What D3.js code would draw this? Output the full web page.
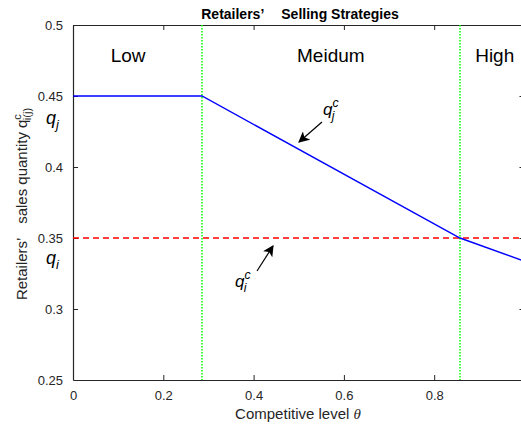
<!DOCTYPE html>
<html>
<head>
<meta charset="utf-8">
<script src="https://cdn.jsdelivr.net/npm/d3@7"></script>
<style>
  body { margin: 0; background: #fff; }
  svg text { font-family: Arial, "Liberation Sans", Helvetica, sans-serif; }
</style>
</head>
<body>
<svg id="chart" width="521" height="428"></svg>
<script>
// Competitive level breakpoints and sales quantities
const theta = [0, 2 / 7, 6 / 7, 1];
const qj = [0.45, 0.45, 0.35, 0.3336];
const qiLevel = [0.35, 0.35];
const qiTheta = [0, 1];
const thresholds = [2 / 7, 6 / 7];
const regions = [
  { name: "Low", at: 0.122 },
  { name: "Meidum", at: 0.571 },
  { name: "High", at: 0.934 }
];
const xTicks = [0, 0.2, 0.4, 0.6, 0.8];
const yTicks = [0.25, 0.3, 0.35, 0.4, 0.45, 0.5];

const svg = d3.select("#chart");
const pLeft = 73, pRight = 524.5, pTop = 25, pBottom = 380;

const x = d3.scaleLinear().domain([0, 1]).range([pLeft, pRight]);
const y = d3.scaleLinear().domain([0.25, 0.5]).range([pBottom, pTop]);

const axisColor = "#262626";

// Box axes with inward ticks
const gB = svg.append("g").attr("transform", `translate(0,${pBottom})`)
  .call(d3.axisBottom(x).tickValues(xTicks).tickSizeInner(-5).tickSizeOuter(0)
    .tickPadding(11).tickFormat(d3.format("")));
const gT = svg.append("g").attr("transform", `translate(0,${pTop})`)
  .call(d3.axisTop(x).tickValues(xTicks).tickSizeInner(-5).tickSizeOuter(0).tickFormat(""));
const gL = svg.append("g").attr("transform", `translate(${pLeft},0)`)
  .call(d3.axisLeft(y).tickValues(yTicks).tickSizeInner(-5).tickSizeOuter(0)
    .tickPadding(10).tickFormat(d3.format("")));
const gR = svg.append("g").attr("transform", `translate(${pRight},0)`)
  .call(d3.axisRight(y).tickValues(yTicks).tickSizeInner(-5).tickSizeOuter(0).tickFormat(""));

[gB, gT, gL, gR].forEach(g => {
  g.select(".domain").attr("stroke", axisColor).attr("stroke-width", 1.2);
  g.selectAll(".tick line").attr("stroke", axisColor);
  g.selectAll(".tick text").attr("fill", axisColor).style("font-size", "13px");
});
gL.selectAll(".tick line").filter(d => d === 0.25 || d === 0.5).remove();
gR.selectAll(".tick line").filter(d => d === 0.25 || d === 0.5).remove();

// Threshold lines between regions
svg.append("g").selectAll("line").data(thresholds).join("line")
  .attr("x1", d => x(d)).attr("x2", d => x(d))
  .attr("y1", pTop).attr("y2", pBottom)
  .attr("stroke", "#00ff00").attr("stroke-width", 1.5)
  .attr("stroke-dasharray", "1.5,1.5");

// Competitor quantity (dashed red)
const qiData = qiTheta.map((t, i) => [t, qiLevel[i]]);
svg.append("path").datum(qiData)
  .attr("d", d3.line().x(d => x(d[0])).y(d => y(d[1])))
  .attr("fill", "none").attr("stroke", "#ff0000").attr("stroke-width", 1.4)
  .attr("stroke-dasharray", "6,4");

// Retailer j quantity (solid blue)
const qjData = theta.map((t, i) => [t, qj[i]]);
svg.append("path").datum(qjData)
  .attr("d", d3.line().x(d => x(d[0])).y(d => y(d[1])))
  .attr("fill", "none").attr("stroke", "#0000ff").attr("stroke-width", 1.4);

// Region names
svg.append("g").selectAll("text").data(regions).join("text")
  .attr("x", d => x(d.at)).attr("y", 62)
  .attr("text-anchor", "middle").style("font-size", "19px").attr("fill", "#000")
  .text(d => d.name);

// Title
const title = svg.append("text").attr("x", 300).attr("y", 19)
  .attr("text-anchor", "middle").style("font-size", "14px").style("font-weight", "bold")
  .attr("fill", "#000");
title.append("tspan").text("Retailers’");
title.append("tspan").attr("dx", 17).text("Selling Strategies");

// X axis label
const xl = svg.append("text").attr("x", 298).attr("y", 419)
  .attr("text-anchor", "middle").style("font-size", "15px").attr("fill", axisColor);
xl.append("tspan").text("Competitive level ");
xl.append("tspan").style("font-style", "italic").style("font-family", "'Times New Roman', 'Liberation Serif', serif").text("θ");

// Y axis label
const yl = svg.append("text")
  .attr("transform", "translate(27,204) rotate(-90)")
  .attr("text-anchor", "middle").style("font-size", "15px").attr("fill", axisColor);
yl.append("tspan").text("Retailers’");
yl.append("tspan").attr("dx", 14).text("sales quantity q");
yl.append("tspan").attr("dy", -6).style("font-size", "11px").text("c");
yl.append("tspan").attr("dx", -6).attr("dy", 10).style("font-size", "11px").text("i(j)");

// Italic symbol with sub/superscript
function sym(xp, yp, sub, sup, size) {
  const t = svg.append("text").attr("x", xp).attr("y", yp)
    .style("font-style", "italic").style("font-size", size + "px").attr("fill", "#000");
  t.append("tspan").text("q");
  if (sup) {
    t.append("tspan").attr("dy", -size * 0.45).style("font-size", (size * 0.72) + "px").text(sup);
    t.append("tspan").attr("dx", -size * 0.4).attr("dy", size * 0.75)
      .style("font-size", (size * 0.72) + "px").text(sub);
  } else {
    t.append("tspan").attr("dy", size * 0.3).style("font-size", (size * 0.72) + "px").text(sub);
  }
}
sym(46, 124, "j", null, 18);
sym(46, 264, "i", null, 18);
sym(323, 115, "j", "c", 17);
sym(235, 287, "i", "c", 17);

// Arrows pointing to the curves
const defs = svg.append("defs");
defs.append("marker").attr("id", "head").attr("viewBox", "0 0 10 10")
  .attr("refX", 9).attr("refY", 5).attr("markerWidth", 11).attr("markerHeight", 11)
  .attr("markerUnits", "userSpaceOnUse").attr("orient", "auto")
  .append("path").attr("d", "M0,0 L10,5 L0,10 L2.5,5 Z").attr("fill", "#000");
const arrows = [
  [[322, 122], [299, 142]],
  [[257, 271], [273, 246]]
];
svg.append("g").selectAll("line").data(arrows).join("line")
  .attr("x1", d => d[0][0]).attr("y1", d => d[0][1])
  .attr("x2", d => d[1][0]).attr("y2", d => d[1][1])
  .attr("stroke", "#000").attr("stroke-width", 1.2).attr("marker-end", "url(#head)");
</script>
</body>
</html>
